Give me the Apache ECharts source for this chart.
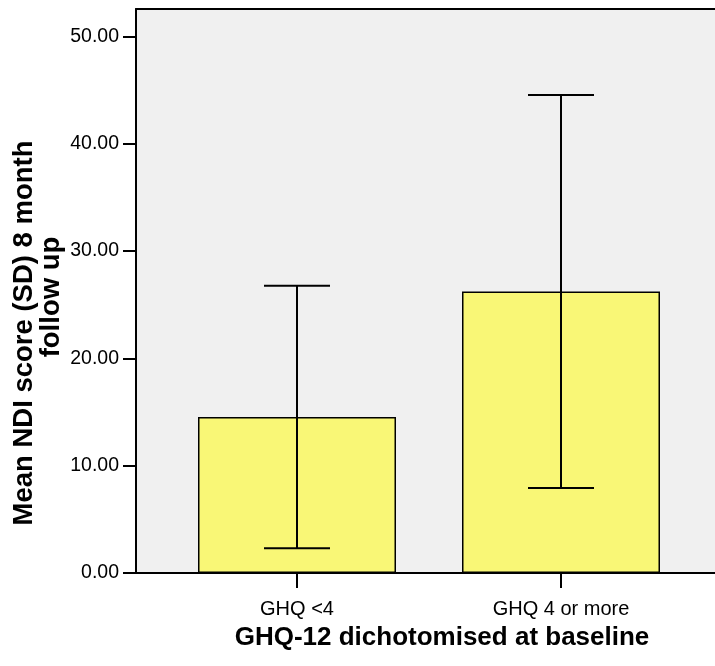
<!DOCTYPE html>
<html><head><meta charset="utf-8">
<script src="https://cdn.jsdelivr.net/npm/echarts@6/dist/echarts.min.js"></script>
<style>html,body{margin:0;padding:0;background:#fff}#c{width:715px;height:666px}</style>
</head><body><div id="c"></div>
<script>
const categories = ['GHQ <4', 'GHQ 4 or more'];
const means = [14.54, 26.24];
const sdLow = [2.30, 7.93];
const sdHigh = [26.78, 44.55];
const yTicks = [0, 10, 20, 30, 40, 50];
const yMin = 0;
const yMax = 52.56;
const yTitle1 = 'Mean NDI score (SD) 8 month';
const yTitle2 = 'follow up';
const xTitle = 'GHQ-12 dichotomised at baseline';

const FONT = '"Liberation Sans", Arial, sans-serif';
const chart = echarts.init(document.getElementById('c'), null, {renderer: 'canvas'});
const errData = categories.map((c, i) => [i, sdLow[i], sdHigh[i]]);
const frameLine = {show: true, onZero: false, lineStyle: {color: '#000', width: 2}};

chart.setOption({
  animation: false,
  backgroundColor: '#ffffff',
  grid: [
    {left: 136, right: 0, top: 9, bottom: 93, show: true, backgroundColor: '#f0f0f0', borderWidth: 0},
    {left: 165, right: 22, top: 9, bottom: 93}
  ],
  xAxis: [
    {type: 'value', gridIndex: 0, min: 0, max: 1, position: 'bottom',
     axisLine: frameLine, axisTick: {show: false}, axisLabel: {show: false}, splitLine: {show: false}},
    {type: 'value', gridIndex: 0, min: 0, max: 1, position: 'top',
     axisLine: frameLine, axisTick: {show: false}, axisLabel: {show: false}, splitLine: {show: false}},
    {type: 'category', gridIndex: 1, data: categories, boundaryGap: true,
     axisLine: {show: false},
     axisTick: {show: true, alignWithLabel: true, length: 15, lineStyle: {color: '#000', width: 2}},
     axisLabel: {fontFamily: FONT, fontSize: 20, color: '#000', margin: 26}}
  ],
  yAxis: [
    {type: 'value', gridIndex: 0, min: yMin, max: yMax,
     axisLine: frameLine, splitLine: {show: false},
     axisTick: {show: true, length: 13, customValues: yTicks, lineStyle: {color: '#000', width: 2}},
     axisLabel: {fontFamily: FONT, fontSize: 19.5, color: '#000', margin: 17, customValues: yTicks,
                 formatter: v => v.toFixed(2)}},
    {type: 'value', gridIndex: 1, min: yMin, max: yMax, show: false}
  ],
  series: [
    {type: 'bar', xAxisIndex: 2, yAxisIndex: 1, data: means, barWidth: '75%',
     itemStyle: {color: '#f9f776', borderColor: '#000', borderWidth: 1.5}, z: 2},
    {type: 'custom', xAxisIndex: 2, yAxisIndex: 1, data: errData, z: 3,
     encode: {x: 0, y: [1, 2]},
     renderItem: function (params, api) {
       const x = api.value(0);
       const lo = api.coord([x, api.value(1)]);
       const hi = api.coord([x, api.value(2)]);
       const half = api.size([1, 0])[0] * 0.125;
       const style = {stroke: '#000', lineWidth: 2};
       return {type: 'group', children: [
         {type: 'line', shape: {x1: hi[0], y1: hi[1], x2: lo[0], y2: lo[1]}, style: style},
         {type: 'line', shape: {x1: hi[0] - half, y1: hi[1], x2: hi[0] + half, y2: hi[1]}, style: style},
         {type: 'line', shape: {x1: lo[0] - half, y1: lo[1], x2: lo[0] + half, y2: lo[1]}, style: style}
       ]};
     }}
  ],
  graphic: [
    {type: 'text', x: 442, y: 638, style: {text: xTitle, font: 'bold 26px ' + FONT, fill: '#000', textAlign: 'center', textVerticalAlign: 'middle'}},
    {type: 'text', x: 24, y: 333, rotation: Math.PI / 2, style: {text: yTitle1, font: 'bold 27.5px ' + FONT, fill: '#000', textAlign: 'center', textVerticalAlign: 'middle'}},
    {type: 'text', x: 51, y: 297, rotation: Math.PI / 2, style: {text: yTitle2, font: 'bold 27.5px ' + FONT, fill: '#000', textAlign: 'center', textVerticalAlign: 'middle'}}
  ]
});
</script></body></html>
